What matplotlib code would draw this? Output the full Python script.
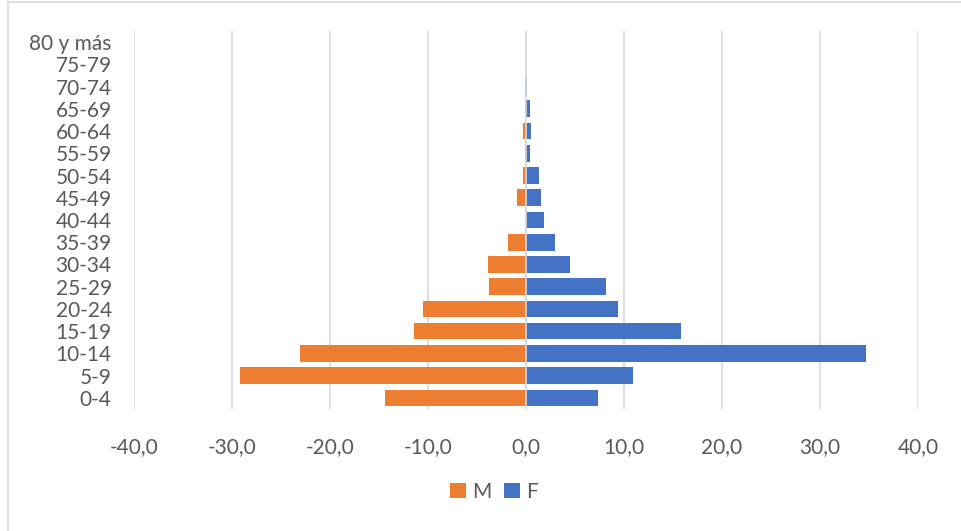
import matplotlib.pyplot as plt
from matplotlib.patches import Rectangle
from matplotlib.ticker import FuncFormatter
import numpy as np

plt.rcParams['font.family'] = ['Lato', 'DejaVu Sans']

grupos = ['0-4', '5-9', '10-14', '15-19', '20-24', '25-29', '30-34', '35-39',
          '40-44', '45-49', '50-54', '55-59', '60-64', '65-69', '70-74',
          '75-79', '80 y más']
hombres = [-14.4, -29.2, -23.1, -11.45, -10.5, -3.8, -3.9, -1.8,
           -0.05, -0.95, -0.3, -0.1, -0.3, -0.1, -0.1, -0.05, -0.05]
mujeres = [7.35, 10.9, 34.7, 15.8, 9.35, 8.2, 4.5, 3.0,
           1.8, 1.5, 1.3, 0.4, 0.5, 0.4, 0.1, 0.05, 0.05]

gris = '#595959'
naranja = '#ED7D31'
azul = '#4472C4'

fig = plt.figure(figsize=(9.61, 5.31), dpi=100)
ax = fig.add_axes([0.1394, 0.2298, 0.8159, 0.7118])

# marco del grafico
fig.patches.append(Rectangle((8 / 961, -0.1), 1.2, 1.1 - 2 / 531,
                             transform=fig.transFigure, fill=False,
                             edgecolor='#d9d9d9', lw=1.2))

y = np.arange(len(grupos))
ax.barh(y, hombres, height=0.75, color=naranja, label='M', zorder=3)
ax.barh(y, mujeres, height=0.75, color=azul, label='F', zorder=3)

ax.set_xlim(-40, 40)
ax.set_ylim(-0.5, len(grupos) - 0.5)
ax.set_xticks(np.arange(-40, 41, 10))
ax.xaxis.set_major_formatter(FuncFormatter(lambda v, p: f'{v:.1f}'.replace('.', ',')))
ax.set_yticks(y)
ax.set_yticklabels(grupos)

ax.grid(axis='x', color='#d9d9d9', lw=1.2, zorder=0)
ax.axvline(0, color='#d9d9d9', lw=1.2, zorder=4)
for s in ax.spines.values():
    s.set_visible(False)
ax.tick_params(axis='both', length=0, labelsize=15, colors=gris)
ax.tick_params(axis='x', pad=20)
ax.tick_params(axis='y', pad=16)

ax.legend(loc='center', bbox_to_anchor=(494 / 961, 1 - 492 / 531),
          bbox_transform=fig.transFigure, ncol=2, frameon=False,
          fontsize=15, labelcolor=gris, handlelength=0.75, handleheight=0.75,
          handletextpad=0.3, columnspacing=0.6)

fig.savefig('out.png', dpi=100)
